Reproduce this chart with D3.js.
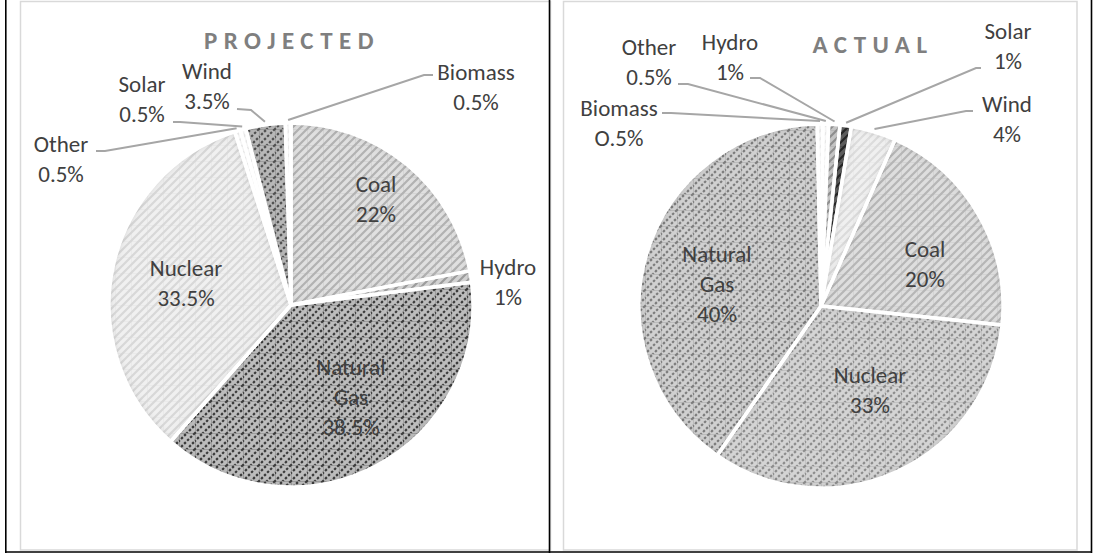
<!DOCTYPE html>
<html>
<head>
<meta charset="utf-8">
<script src="https://cdn.jsdelivr.net/npm/d3@7"></script>
<style>
  html, body { margin: 0; padding: 0; background: #fff; }
  svg { display: block; font-family: Carlito, Calibri, Lato, sans-serif; }
</style>
</head>
<body>
<svg id="chart" width="1094" height="553"></svg>
<script>
// projected vs actual generation mix, two pies
const projCategories = ["Coal", "Hydro", "Natural Gas", "Nuclear", "Other", "Solar", "Wind", "Biomass"];
const projValues = [22, 1, 38.5, 33.5, 0.5, 0.5, 3.5, 0.5];
const projPct = ["22%", "1%", "38.5%", "33.5%", "0.5%", "0.5%", "3.5%", "0.5%"];

const actCategories = ["Solar", "Wind", "Coal", "Nuclear", "Natural Gas", "Biomass", "Other", "Hydro"];
const actValues = [1, 4, 20, 33, 40, 0.5, 0.5, 1];
const actPct = ["1%", "4%", "20%", "33%", "40%", "O.5%", "0.5%", "1%"];

// pattern colours per slice (base, stripe, dashed?)
const projLook = {
  "Coal": { base: "#e0e0e0", stripe: "#b2b2b2" },
  "Hydro": { base: "#d2d2d2", stripe: "#9c9c9c" },
  "Natural Gas": { base: "#bdbdbd", stripe: "#3a3a3a", dash: "2.5 1.8" },
  "Nuclear": { base: "#f0f0f0", stripe: "#d8d8d8" },
  "Other": { base: "#f6f6f6", stripe: "#e6e6e6" },
  "Solar": { base: "#f6f6f6", stripe: "#e6e6e6" },
  "Wind": { base: "#b8b8b8", stripe: "#505050", dash: "2.5 1.8" },
  "Biomass": { base: "#f6f6f6", stripe: "#e8e8e8" },
};
const actLook = {
  "Solar": { base: "#5c5c5c", stripe: "#262626" },
  "Wind": { base: "#f0f0f0", stripe: "#dcdcdc" },
  "Coal": { base: "#dedede", stripe: "#b6b6b6" },
  "Nuclear": { base: "#d4d4d4", stripe: "#8c8c8c", dash: "2.5 1.8" },
  "Natural Gas": { base: "#d0d0d0", stripe: "#7c7c7c", dash: "2.5 1.8" },
  "Biomass": { base: "#f6f6f6", stripe: "#e8e8e8" },
  "Other": { base: "#f6f6f6", stripe: "#e8e8e8" },
  "Hydro": { base: "#c4c4c4", stripe: "#8e8e8e" },
};

// label placement as left in the sheet: text centre x, first line y,
// leader = [start, elbow] (end point comes from the slice)
const projLayout = {
  "Coal": { x: 376, y: 184 },
  "Hydro": { x: 508, y: 267 },
  "Natural Gas": { x: 351, y: 367 },
  "Nuclear": { x: 186, y: 268 },
  "Other": { x: 61, y: 144, leader: [[96, 151], [105, 151]] },
  "Solar": { x: 142, y: 84, leader: [[173, 122], [180, 122]] },
  "Wind": { x: 207, y: 71, leader: [[237, 109], [251, 110]] },
  "Biomass": { x: 476, y: 72, leader: [[433, 75], [424, 75]] },
};
const actLayout = {
  "Solar": { x: 1008, y: 31, leader: [[981, 68], [976, 68]] },
  "Wind": { x: 1007, y: 104, leader: [[973, 111], [966, 111]] },
  "Coal": { x: 925, y: 249 },
  "Nuclear": { x: 870, y: 375 },
  "Natural Gas": { x: 717, y: 254 },
  "Biomass": { x: 619, y: 108, leader: [[662, 113], [671, 113]] },
  "Other": { x: 649, y: 47, leader: [[678, 84], [688, 84]] },
  "Hydro": { x: 730, y: 42, leader: [[750, 78], [760, 78]] },
};

const svg = d3.select("#chart");
const defs = svg.append("defs");

// soft inner shadow like the Excel shape effect
const f = defs.append("filter").attr("id", "inner")
  .attr("x", "-5%").attr("y", "-5%").attr("width", "110%").attr("height", "110%");
f.append("feFlood").attr("flood-color", "#000").attr("flood-opacity", 0.35).attr("result", "flood");
f.append("feComposite").attr("in", "flood").attr("in2", "SourceAlpha").attr("operator", "out").attr("result", "outside");
f.append("feGaussianBlur").attr("in", "outside").attr("stdDeviation", 3.5).attr("result", "blur");
f.append("feComposite").attr("in", "blur").attr("in2", "SourceAlpha").attr("operator", "in").attr("result", "shadow");
const fm = f.append("feMerge");
fm.append("feMergeNode").attr("in", "SourceGraphic");
fm.append("feMergeNode").attr("in", "shadow");

function addPattern(id, look) {
  const p = defs.append("pattern").attr("id", id)
    .attr("patternUnits", "userSpaceOnUse").attr("width", 16).attr("height", 16);
  p.append("rect").attr("width", 16).attr("height", 16).attr("fill", look.base);
  // faint square grid
  p.append("path").attr("d", "M0,0.5H16M0.5,0V16")
    .attr("stroke", look.stripe).attr("stroke-opacity", 0.25).attr("stroke-width", 1);
  // upward diagonals
  p.append("path")
    .attr("d", "M-4,4L4,-4M-4,12L12,-4M-4,20L20,-4M4,20L20,4M12,20L20,12")
    .attr("stroke", look.stripe).attr("stroke-width", 2.2)
    .attr("stroke-dasharray", look.dash || null)
    .attr("fill", "none");
}

// frames: chart borders
const frame = svg.append("g");
frame.append("rect").attr("x", 20.5).attr("y", 1.5).attr("width", 530).attr("height", 548.5)
  .attr("fill", "none").attr("stroke", "#d9d9d9").attr("stroke-width", 1.5);
frame.append("rect").attr("x", 563.5).attr("y", 1.5).attr("width", 513.5).attr("height", 548.5)
  .attr("fill", "none").attr("stroke", "#d9d9d9").attr("stroke-width", 1.5);

function drawPie(cfg) {
  const rows = cfg.categories.map((c, i) => ({ name: c, value: cfg.values[i], pct: cfg.pct[i] }));
  const pie = d3.pie().sort(null).value((d) => d.value)
    .startAngle(cfg.start).endAngle(cfg.start + 2 * Math.PI);
  const arcs = pie(rows);
  const arc = d3.arc().innerRadius(0).outerRadius(cfg.r);

  rows.forEach((d, i) => addPattern(`${cfg.key}-${i}`, cfg.look[d.name]));

  const g = svg.append("g").attr("transform", `translate(${cfg.cx},${cfg.cy})`);
  g.selectAll("path.slice")
    .data(arcs)
    .enter()
    .append("path")
    .attr("class", "slice")
    .attr("d", arc)
    .attr("fill", (d, i) => `url(#${cfg.key}-${i})`)
    .attr("filter", (d) => (d.data.value >= 3 ? "url(#inner)" : null));
  // white separators on top
  g.selectAll("path.edge")
    .data(arcs)
    .enter()
    .append("path")
    .attr("class", "edge")
    .attr("d", arc)
    .attr("fill", "none")
    .attr("stroke", "#fff")
    .attr("stroke-width", 3.5)
    .attr("stroke-linejoin", "round");

  // leader lines
  const line = d3.line();
  arcs.forEach((a) => {
    const lay = cfg.layout[a.data.name];
    if (!lay.leader) return;
    const mid = (a.startAngle + a.endAngle) / 2;
    const end = [cfg.cx + Math.sin(mid) * (cfg.r + 3), cfg.cy - Math.cos(mid) * (cfg.r + 3)];
    svg.append("path")
      .attr("d", line([lay.leader[0], lay.leader[1], end]))
      .attr("fill", "none")
      .attr("stroke", "#a6a6a6")
      .attr("stroke-width", 2);
  });

  // data labels
  arcs.forEach((a) => {
    const lay = cfg.layout[a.data.name];
    const lines = a.data.name.split(" ").concat([a.data.pct]);
    const t = svg.append("text")
      .attr("text-anchor", "middle")
      .attr("fill", "#404040")
      .attr("font-size", 23);
    lines.forEach((s, k) => {
      t.append("tspan").attr("x", lay.x).attr("y", lay.y + k * 30).attr("dy", "0.35em").text(s);
    });
  });

  svg.append("text")
    .attr("x", cfg.title.x)
    .attr("y", cfg.title.y)
    .attr("dy", "0.35em")
    .attr("text-anchor", "middle")
    .attr("fill", "#7f7f7f")
    .attr("font-size", 25)
    .attr("font-weight", "bold")
    .attr("letter-spacing", 6.5)
    .text(cfg.title.text);
}

drawPie({
  key: "proj", cx: 291, cy: 305, r: 182, start: 0,
  categories: projCategories, values: projValues, pct: projPct,
  look: projLook, layout: projLayout,
  title: { text: "PROJECTED", x: 292, y: 40 },
});
drawPie({
  key: "act", cx: 821, cy: 306, r: 182, start: (6 * Math.PI) / 180,
  categories: actCategories, values: actValues, pct: actPct,
  look: actLook, layout: actLayout,
  title: { text: "ACTUAL", x: 873, y: 44 },
});

// black table rules
const rules = [
  [5.8, 0, 5.8, 553],
  [549.5, 0, 549.5, 553],
  [1091.5, 0, 1091.5, 553],
  [5, 552, 1092, 552],
];
svg.selectAll("line.rule")
  .data(rules)
  .enter()
  .append("line")
  .attr("class", "rule")
  .attr("x1", (d) => d[0]).attr("y1", (d) => d[1])
  .attr("x2", (d) => d[2]).attr("y2", (d) => d[3])
  .attr("stroke", "#000")
  .attr("stroke-width", 1.6);
</script>
</body>
</html>
